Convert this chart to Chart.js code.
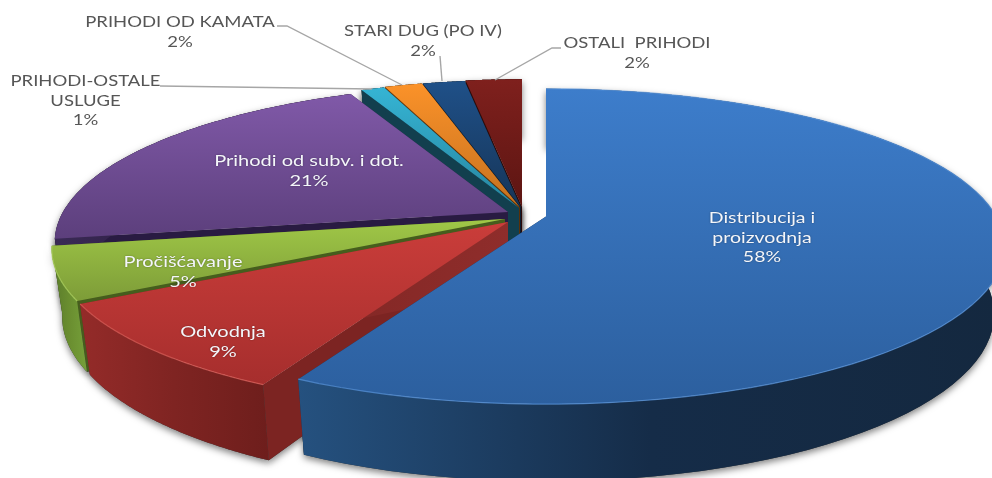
<!DOCTYPE html>
<html>
<head>
<meta charset="utf-8">
<script src="https://cdn.jsdelivr.net/npm/chart.js@4"></script>
<style>
  html, body { margin:0; padding:0; background:#fff; }
  canvas { display:block; }
</style>
</head>
<body>
<canvas id="pie" width="992" height="478"></canvas>
<script>
// data
const categories = ["Distribucija i proizvodnja", "Odvodnja", "Pročišćavanje", "Prihodi od subv. i dot.",
  "PRIHODI-OSTALE USLUGE", "PRIHODI OD KAMATA", "STARI DUG (PO IV)", "OSTALI  PRIHODI"];
const shares = [57.5, 9.3, 5.4, 20.9, 1.0, 1.6, 1.8, 2.4];
const shownPercents = ["58%", "9%", "5%", "21%", "1%", "2%", "2%", "2%"];

// colours per slice: top face [far, near], outer wall [left, mid, right], cut face
const topColors = [["#3d7dcb","#2c5f9e"],["#ca3d3a","#a62e2d"],["#a0c847","#7d9c38"],["#8059a8","#5c3f7c"],
  ["#35b4d4","#27859f"],["#fb9229","#c5711f"],["#1f5088","#163558"],["#7f201d","#5c1512"]];
const wallColors = [["#25517f","#152c48","#14283f"],["#942b29","#7f2422","#6e1e1c"],["#597a2a","#6a8e30","#76a03a"],
  ["#3a2a55","#2a1a40","#231536"],["#123f4e","#123f4e","#123f4e"],["#6b3a0c","#6b3a0c","#6b3a0c"],
  ["#0d2035","#0d2035","#0d2035"],["#2e0a08","#2e0a08","#2e0a08"]];
const cutColors = ["#16304f","#7c2422","#465d1d","#291b42","#123f4e","#5a3009","#0b1c30","#2a0907"];
const rimColors = ["#5a95dd","#dc5f5a","#b4d866",null,null,null,null,null];

// exploded position of every slice, px
const shiftX = [27,-11,-14,-11,0,1,2,3];
const shiftY = [1.5,7,4,-3,-7,-7.5,-7.5,-8];
const stretchX = [1.012,1,1,1,1,1,1,1];
const paintOrder = [7,6,5,4,3,2,1,0];

// text layout
const labelRows = [["Distribucija i","proizvodnja"],["Odvodnja"],["Pročišćavanje"],["Prihodi od subv. i dot."],
  ["PRIHODI-OSTALE","USLUGE"],["PRIHODI OD KAMATA"],["STARI DUG (PO IV)"],["OSTALI  PRIHODI"]];
const labelX = [762,223,183,309,85.5,180,423,637];
const labelY = [218,332,262,161,81,22,31,43];
const labelWide = [1.22,1.25,1.25,1.25,1.155,1.155,1.155,1.155];
const leaders = [null,null,null,null,
  [[160,86],[372,89]],
  [[277,26],[287,26],[402,85]],
  [[440,56],[442,81]],
  [[561,48],[552,48],[495,80]]];

// fake 3D view
const CX = 519, CY = 215, RX = 445, RY = 152, TILT = 0.19, DEPTH = 66, SHRINK = 0.023;

function project(angle, r, z, i){
  const u = r*Math.cos(angle), v = r*Math.sin(angle);
  const w = 1 - TILT*v, s = 1 - SHRINK*z;
  return [CX + shiftX[i] + RX*stretchX[i]*u/w*s, CY + shiftY[i] + RY*v/w*s + DEPTH*z/w];
}

function rimPoints(a0, a1, z, i){
  const pts = [];
  for(let k=0;k<=80;k++) pts.push(project(a0+(a1-a0)*k/80, 1, z, i));
  return pts;
}

function fillPath(ctx, pts, fill){
  ctx.beginPath();
  pts.forEach((p,n)=> n ? ctx.lineTo(p[0],p[1]) : ctx.moveTo(p[0],p[1]));
  ctx.closePath();
  ctx.fillStyle = fill;
  ctx.fill();
}

function slicePaths(arc, i){
  const a0 = arc.startAngle, a1 = arc.endAngle;
  const top = rimPoints(a0,a1,0,i), low = rimPoints(a0,a1,1,i);
  const apex = project(0,0,0,i), apexLow = project(0,0,1,i);
  return {
    top,
    face: [apex, ...top],
    wall: [...top, ...low.slice().reverse()],
    cutA: [apex, top[0], low[0], apexLow],
    cutB: [apex, top[80], low[80], apexLow]
  };
}

function gradient(ctx, pts, horizontal, colors){
  const vals = pts.map(p=> horizontal ? p[0] : p[1]);
  const lo = Math.min(...vals), hi = Math.max(...vals);
  const g = horizontal ? ctx.createLinearGradient(lo,0,hi,0) : ctx.createLinearGradient(0,lo,0,hi);
  colors.forEach((c,n)=> g.addColorStop(colors.length>1 ? n/(colors.length-1) : 0, c));
  return g;
}

function drawText(ctx, rows, x, y, wide, color, soft){
  ctx.save();
  ctx.font = "16px Lato";
  ctx.fillStyle = color;
  ctx.textAlign = "center";
  ctx.textBaseline = "middle";
  if(soft){ ctx.shadowColor = "rgba(0,0,0,.35)"; ctx.shadowBlur = 2; }
  rows.forEach((row,n)=>{
    ctx.setTransform(wide,0,0,1,x,y+n*19.6);
    ctx.fillText(row,0,0);
  });
  ctx.restore();
}

const pie3d = {
  id:"pie3d",
  beforeDatasetsDraw(chart){
    const ctx = chart.ctx, arcs = chart.getDatasetMeta(0).data;
    const paths = arcs.map(slicePaths);

    // soft shadow under the whole pie first
    ctx.save();
    ctx.shadowColor = "rgba(0,0,0,.5)";
    ctx.shadowBlur = 7;
    ctx.shadowOffsetY = 3;
    paintOrder.forEach(i=>{
      fillPath(ctx, paths[i].cutA, "#333");
      fillPath(ctx, paths[i].wall, "#333");
    });
    ctx.restore();

    paintOrder.forEach(i=>{
      const p = paths[i];
      fillPath(ctx, p.cutA, cutColors[i]);
      fillPath(ctx, p.cutB, i===1 ? gradient(ctx,p.cutB,true,["#701f1d","#8f2d2b"]) : cutColors[i]);
      fillPath(ctx, p.wall, gradient(ctx,p.wall,true,wallColors[i]));
      fillPath(ctx, p.face, gradient(ctx,p.face,false,topColors[i]));
      if(rimColors[i]){
        ctx.beginPath();
        p.top.forEach((q,n)=> n ? ctx.lineTo(q[0],q[1]) : ctx.moveTo(q[0],q[1]));
        ctx.strokeStyle = rimColors[i];
        ctx.globalAlpha = .7;
        ctx.lineWidth = 1.2;
        ctx.stroke();
        ctx.globalAlpha = 1;
      }
    });

    // leader lines
    ctx.strokeStyle = "#a6a6a6";
    ctx.lineWidth = 1.4;
    leaders.forEach(line=>{
      if(!line) return;
      ctx.beginPath();
      line.forEach((q,n)=> n ? ctx.lineTo(q[0],q[1]) : ctx.moveTo(q[0],q[1]));
      ctx.stroke();
    });

    // labels
    categories.forEach((c,i)=>{
      const inside = i<4;
      drawText(ctx, [...labelRows[i], shownPercents[i]], labelX[i], labelY[i], labelWide[i], inside ? "#f4f6fa" : "#565656", inside);
    });
    return false; // arcs are drawn above, skip the flat ones
  }
};

new Chart(document.getElementById("pie"), {
  type:"pie",
  data:{
    labels:categories,
    datasets:[{ data:shares, backgroundColor:topColors.map(c=>c[0]), borderWidth:0 }]
  },
  options:{
    responsive:false,
    animation:false,
    rotation:0,
    plugins:{ legend:{ display:false }, tooltip:{ enabled:false } }
  },
  plugins:[pie3d]
});
</script>
</body>
</html>
